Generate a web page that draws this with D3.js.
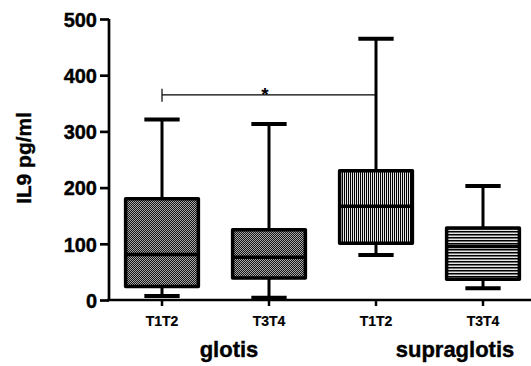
<!DOCTYPE html>
<html>
<head>
<meta charset="utf-8">
<script src="https://cdn.jsdelivr.net/npm/d3@7/dist/d3.min.js"></script>
<style>
  html, body { margin: 0; padding: 0; background: #fff; }
  svg { display: block; }
  text { font-family: "Liberation Sans", Arial, sans-serif; font-weight: bold; fill: #000; }
</style>
</head>
<body>
<script>
// ---- data ----
const keys = ["glotis-T1T2", "glotis-T3T4", "supraglotis-T1T2", "supraglotis-T3T4"];
const catLabels = ["T1T2", "T3T4", "T1T2", "T3T4"];
const groupNames = ["glotis", "supraglotis"];
const fills = ["check", "check", "vlines", "hlines"];
const mins = [7, 4, 80, 21];
const q1s = [24, 39, 101, 37];
const medians = [81, 76, 167, 95];
const q3s = [180, 125, 230, 128];
const maxs = [321, 313, 465, 203];
const yTicks = [0, 100, 200, 300, 400, 500];
const yTitle = "IL9 pg/ml";
const sigFrom = 0, sigTo = 2, sigValue = 365, sigLabel = "*";

// ---- layout ----
const W = 531, H = 366;
const svg = d3.select("body").append("svg").attr("width", W).attr("height", H);

const x = d3.scaleBand().domain(keys).range([108.5, 536.5]);
const y = d3.scaleLinear().domain([0, 500]).range([300, 19]);
const bw = x.bandwidth() * 0.68;
const capW = x.bandwidth() * 0.33;
const cx = k => x(k) + x.bandwidth() / 2;

// patterns
const defs = svg.append("defs");
const pc = defs.append("pattern").attr("id", "check").attr("patternUnits", "userSpaceOnUse")
  .attr("width", 2).attr("height", 2);
pc.append("rect").attr("width", 2).attr("height", 2).attr("fill", "#151515");
pc.append("rect").attr("x", 0).attr("y", 0).attr("width", 1).attr("height", 1).attr("fill", "#a8a8a8");
pc.append("rect").attr("x", 1).attr("y", 1).attr("width", 1).attr("height", 1).attr("fill", "#a8a8a8");
const pv = defs.append("pattern").attr("id", "vlines").attr("patternUnits", "userSpaceOnUse")
  .attr("width", 2).attr("height", 2);
pv.append("rect").attr("width", 2).attr("height", 2).attr("fill", "#e4e4e4");
pv.append("rect").attr("width", 1).attr("height", 2).attr("fill", "#000");
const ph = defs.append("pattern").attr("id", "hlines").attr("patternUnits", "userSpaceOnUse")
  .attr("width", 3).attr("height", 3);
ph.append("rect").attr("width", 3).attr("height", 3).attr("fill", "#e4e4e4");
ph.append("rect").attr("width", 3).attr("height", 1.5).attr("fill", "#000");

// boxes
const data = keys.map((k, i) => ({k, i, min: mins[i], q1: q1s[i], med: medians[i], q3: q3s[i], max: maxs[i]}));
const g = svg.append("g").selectAll("g").data(data).join("g");

g.append("line").attr("x1", d => cx(d.k)).attr("x2", d => cx(d.k))
  .attr("y1", d => y(d.max)).attr("y2", d => y(d.min))
  .attr("stroke", "#000").attr("stroke-width", 3);
g.append("line").attr("x1", d => cx(d.k) - capW / 2).attr("x2", d => cx(d.k) + capW / 2)
  .attr("y1", d => y(d.max)).attr("y2", d => y(d.max))
  .attr("stroke", "#000").attr("stroke-width", 4);
g.append("line").attr("x1", d => cx(d.k) - capW / 2).attr("x2", d => cx(d.k) + capW / 2)
  .attr("y1", d => y(d.min)).attr("y2", d => y(d.min))
  .attr("stroke", "#000").attr("stroke-width", 4);
g.append("rect").attr("x", d => cx(d.k) - bw / 2).attr("width", bw)
  .attr("y", d => y(d.q3)).attr("height", d => y(d.q1) - y(d.q3))
  .attr("fill", d => `url(#${fills[d.i]})`)
  .attr("stroke", "#000").attr("stroke-width", 3.5).attr("stroke-linejoin", "round");
g.append("line").attr("x1", d => cx(d.k) - bw / 2).attr("x2", d => cx(d.k) + bw / 2)
  .attr("y1", d => y(d.med)).attr("y2", d => y(d.med))
  .attr("stroke", "#000").attr("stroke-width", 3.5);

// y axis
const yAxis = svg.append("g").attr("transform", "translate(109,0)")
  .call(d3.axisLeft(y).tickValues(yTicks).tickSize(9).tickPadding(3).tickFormat(d3.format("d")));
yAxis.select(".domain").attr("stroke", "#000").attr("stroke-width", 2.7).attr("d", `M0,${y(500)}V${y(0)}`);
yAxis.selectAll(".tick line").attr("stroke", "#000").attr("stroke-width", 2.7);
yAxis.selectAll(".tick text").attr("font-size", 20).attr("font-family", "Liberation Sans, Arial, sans-serif")
  .attr("font-weight", "bold").attr("fill", "#000").attr("stroke", "#000").attr("stroke-width", 0.4)
  .attr("dy", "0.36em");

// x axis
const xAxis = svg.append("g").attr("transform", `translate(0,${y(0)})`)
  .call(d3.axisBottom(x).tickSize(6).tickPadding(10).tickFormat((d, i) => catLabels[i]));
xAxis.select(".domain").attr("stroke", "#000").attr("stroke-width", 2.7).attr("d", `M107.5,0H540`);
xAxis.selectAll(".tick line").attr("stroke", "#000").attr("stroke-width", 2.5);
xAxis.selectAll(".tick text").attr("font-size", 14).attr("font-family", "Liberation Sans, Arial, sans-serif")
  .attr("font-weight", "bold").attr("fill", "#000").attr("stroke", "#000").attr("stroke-width", 0.2);

// group labels
const groupOffsets = [13.5, 25.5];
groupNames.forEach((name, j) => {
  const a = cx(keys[j * 2]), b = cx(keys[j * 2 + 1]);
  svg.append("text").attr("x", (a + b) / 2 + groupOffsets[j]).attr("y", 357)
    .attr("text-anchor", "middle").attr("font-size", 22)
    .attr("stroke", "#000").attr("stroke-width", 0.4).text(name);
});

// y title
svg.append("text").attr("transform", `translate(31,${158}) rotate(-90)`)
  .attr("text-anchor", "middle").attr("font-size", 21)
  .attr("stroke", "#000").attr("stroke-width", 0.4).text(yTitle);

// significance bracket
const sx1 = cx(keys[sigFrom]), sx2 = cx(keys[sigTo]), sy = y(sigValue);
svg.append("line").attr("x1", sx1).attr("x2", sx2).attr("y1", sy).attr("y2", sy)
  .attr("stroke", "#000").attr("stroke-width", 1.2);
svg.append("line").attr("x1", sx1).attr("x2", sx1).attr("y1", sy - 6).attr("y2", sy + 7)
  .attr("stroke", "#000").attr("stroke-width", 1.2);
svg.append("text").attr("x", 265).attr("y", sy + 6)
  .attr("text-anchor", "middle").attr("font-size", 19).text(sigLabel);
</script>
</body>
</html>
